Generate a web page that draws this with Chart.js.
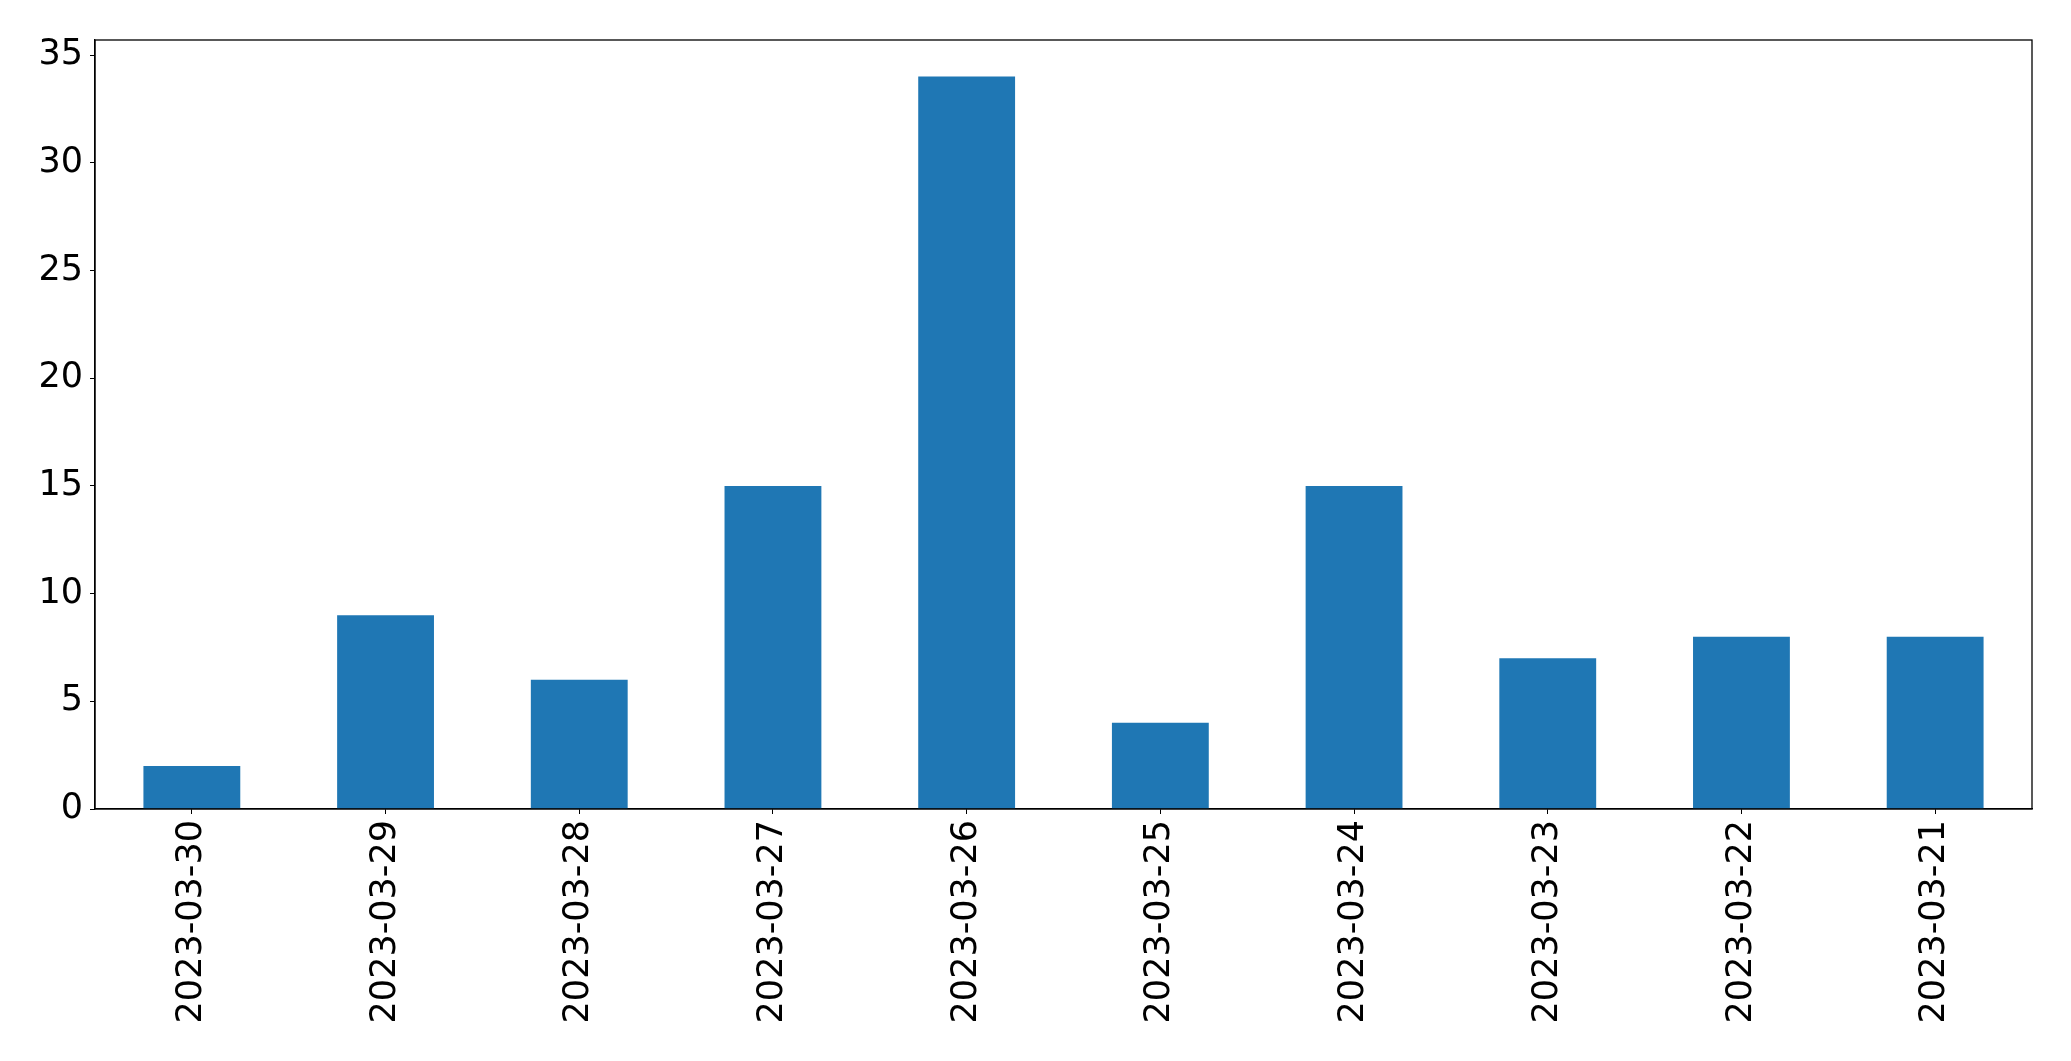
<!DOCTYPE html>
<html>
<head>
<meta charset="utf-8">
<script src="https://cdn.jsdelivr.net/npm/chart.js@4/dist/chart.umd.min.js"></script>
<style>
  html, body { margin: 0; padding: 0; background: #fff; }
  #wrap { width: 2071px; height: 1061px; position: relative; }
</style>
</head>
<body>
<div id="wrap"><canvas id="barChart"></canvas></div>
<script>
// data
const dates = ['2023-03-30', '2023-03-29', '2023-03-28', '2023-03-27', '2023-03-26',
               '2023-03-25', '2023-03-24', '2023-03-23', '2023-03-22', '2023-03-21'];
const counts = [2, 9, 6, 15, 34, 4, 15, 7, 8, 8];
const yTicks = [0, 5, 10, 15, 20, 25, 30, 35];

const tickFont = { family: 'DejaVu Sans', size: 35 };

// full box round the plot area
const frame = {
    id: 'frame',
    afterDraw(chart) {
        const a = chart.chartArea, ctx = chart.ctx;
        ctx.save();
        ctx.strokeStyle = '#000';
        ctx.lineWidth = 1.3;
        ctx.strokeRect(a.left, a.top, a.right - a.left, a.bottom - a.top);
        ctx.restore();
    }
};

new Chart(document.getElementById('barChart'), {
    type: 'bar',
    data: {
        labels: dates,
        datasets: [{ data: counts, backgroundColor: '#1f77b4', borderWidth: 0,
                     barPercentage: 0.5, categoryPercentage: 1 }]
    },
    options: {
        responsive: true,
        maintainAspectRatio: false,
        animation: false,
        layout: { padding: { top: 40, right: 39, left: 0, bottom: 0 } },
        plugins: { legend: { display: false }, tooltip: { enabled: false } },
        scales: {
            x: {
                offset: true,
                grid: { drawOnChartArea: false, drawTicks: true, tickLength: 5, color: '#000', offset: false },
                border: { display: true, color: '#000', width: 1.3 },
                ticks: { color: '#000', font: tickFont, minRotation: 90, maxRotation: 90, padding: 6, autoSkip: false },
                afterFit(s) { s.height = 252; }
            },
            y: {
                min: 0,
                max: 35.7,
                grid: { drawOnChartArea: false, drawTicks: true, tickLength: 5, color: '#000' },
                border: { display: true, color: '#000', width: 1.3 },
                ticks: { color: '#000', font: tickFont, padding: 7 },
                afterBuildTicks(s) { s.ticks = yTicks.map(v => ({ value: v })); },
                afterFit(s) { s.width = 95; }
            }
        }
    },
    plugins: [frame]
});
</script>
</body>
</html>
